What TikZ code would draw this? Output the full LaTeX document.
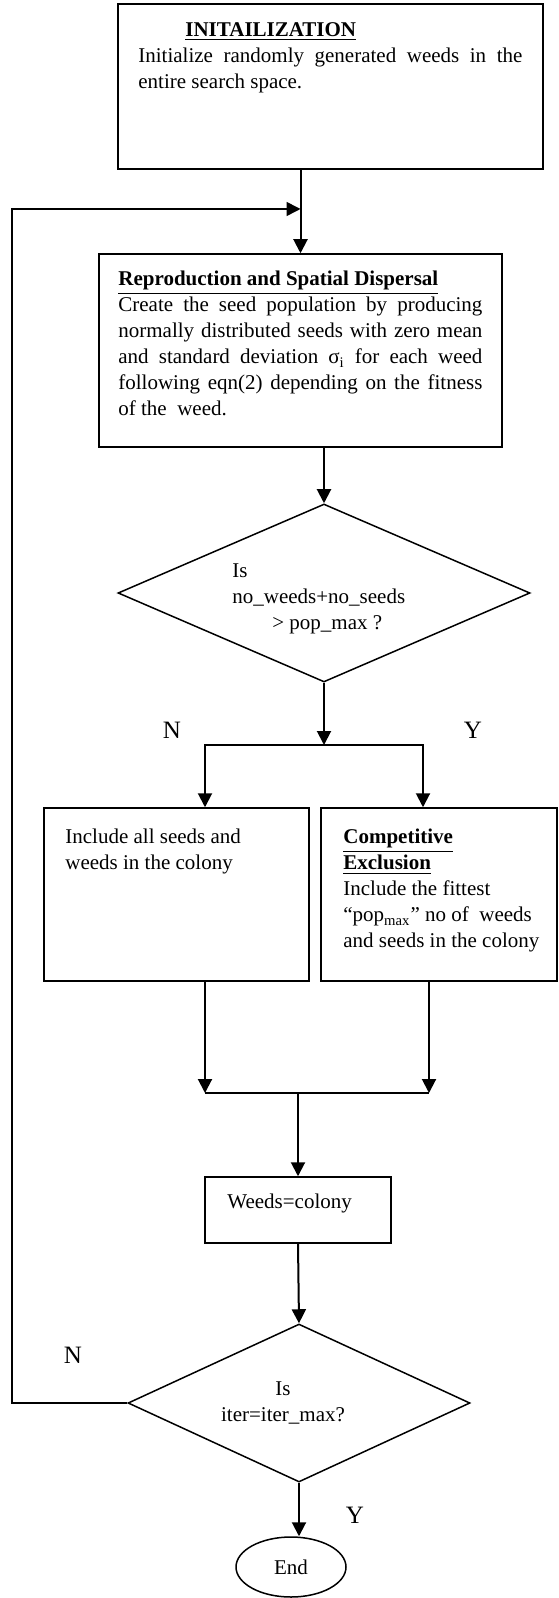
\documentclass[tikz,border=0pt]{standalone}
\usepackage{fontspec}
\setmainfont{Liberation Serif}
\usetikzlibrary{shapes.geometric, arrows.meta}
\tolerance=10000
\hbadness=10000
\tikzstyle{block} = [rectangle, draw=black, line width=0.75pt, inner sep=0pt]
\tikzstyle{decision} = [diamond, draw=black, line width=0.75pt, inner sep=0pt, font=\fontsize{10.5}{13}\selectfont]
\tikzstyle{txt} = [inner sep=0pt, anchor=north west, font=\fontsize{10.5}{13}\selectfont]
\tikzstyle{arrow} = [line width=1pt,->,>={Triangle[length=7pt,width=7pt]}]
\tikzstyle{line} = [line width=1pt]
\tikzstyle{yn} = [inner sep=0pt, font=\fontsize{12.5}{15}\selectfont]

\begin{document}
\begin{tikzpicture}[x=0.5pt, y=-0.5pt]
\useasboundingbox (0,0) rectangle (558,1598);

% boxes
\node[block, minimum width=212.5pt, minimum height=82.5pt] (init) at (330.5,86.5) {};
\node[txt, text width=192pt, align=justify] (inittxt) at (138,22)
  {\hspace*{23.5pt}\underline{\textbf{INITAILIZATION}}\\
   Initialize randomly generated weeds in the\linebreak entire search space.};

\node[block, minimum width=201.5pt, minimum height=96.5pt] (repro) at (300.5,350.5) {};
\node[txt, text width=182pt, align=justify] (reprotxt) at (118,271)
  {\underline{\textbf{Reproduction and Spatial Dispersal}}\\
   Create the seed population by producing\linebreak
   normally distributed seeds with zero mean\linebreak
   and standard deviation σ\textsubscript{i} for each weed\linebreak
   following eqn(2) depending on the fitness\linebreak
   of the~ weed.};

\node[decision, aspect=2.3, minimum width=206pt, minimum height=89pt] (grow) at (324,593) {};
\node[txt, align=left] (growtxt) at (232,563)
  {Is\\no\_weeds+no\_seeds\\\hspace*{20pt}> pop\_max ?};

\node[block, minimum width=132.5pt, minimum height=86.5pt] (keepall) at (176.5,894.5) {};
\node[txt, align=left] (keepalltxt) at (65,829)
  {Include all seeds and\\weeds in the colony};

\node[block, minimum width=118pt, minimum height=86.5pt] (excl) at (439,894.5) {};
\node[txt, align=left] (excltxt) at (343,829)
  {\underline{\textbf{Competitive}}\\\underline{\textbf{Exclusion}}\\Include the fittest\\
   ``pop\textsubscript{max}'' no of~ weeds\\and seeds in the colony};

\node[block, minimum width=93pt, minimum height=33pt] (weeds) at (298,1210) {};
\node[txt] (weedstxt) at (227,1194) {Weeds=colony};

\node[decision, aspect=2.16, minimum width=171pt, minimum height=79pt, align=center] (iter) at (299,1403)
  {Is\hspace*{16pt}\\iter=iter\_max?\hspace*{16pt}};

\node[ellipse, draw=black, line width=0.75pt, inner sep=0pt, minimum width=55pt, minimum height=30pt,
  font=\fontsize{10.5}{13}\selectfont] (endn) at (291,1567) {End};

% labels
\node[yn] (nsplit) at (172,730) {N};
\node[yn] (ysplit) at (473,730) {Y};
\node[yn] (nloop) at (73,1355) {N};
\node[yn] (yend) at (355,1515) {Y};

% connectors
\coordinate (loopcorner) at (12,209);
\coordinate (loopin) at (300.5,209);
\coordinate (split) at (324,745);
\coordinate (nleft) at (205,745);
\coordinate (yright) at (423,745);
\coordinate (mleft) at (205,1093);
\coordinate (mright) at (429,1093);

\draw[arrow] (init.south -| repro.north) -- (repro.north);
\draw[arrow, line width=0.8pt] (iter.west) -| (loopcorner) -- (loopin);
\draw[arrow] (repro.south -| grow.north) -- (grow.north);
\draw[arrow] (grow.south) -- (split);
\draw[arrow] (split) -| (nleft |- keepall.north);
\draw[arrow] (split) -| (yright |- excl.north);
\draw[arrow] (mleft |- keepall.south) -- (mleft);
\draw[arrow] (mright |- excl.south) -- (mright);
\draw[line] (mleft) -- (mright);
\draw[arrow] (mleft -| weeds.north) -- (weeds.north);
\draw[arrow] (weeds.south) -- (iter.north);
\draw[arrow] (iter.south) -- (iter.south |- endn.north);
\end{tikzpicture}
\end{document}
